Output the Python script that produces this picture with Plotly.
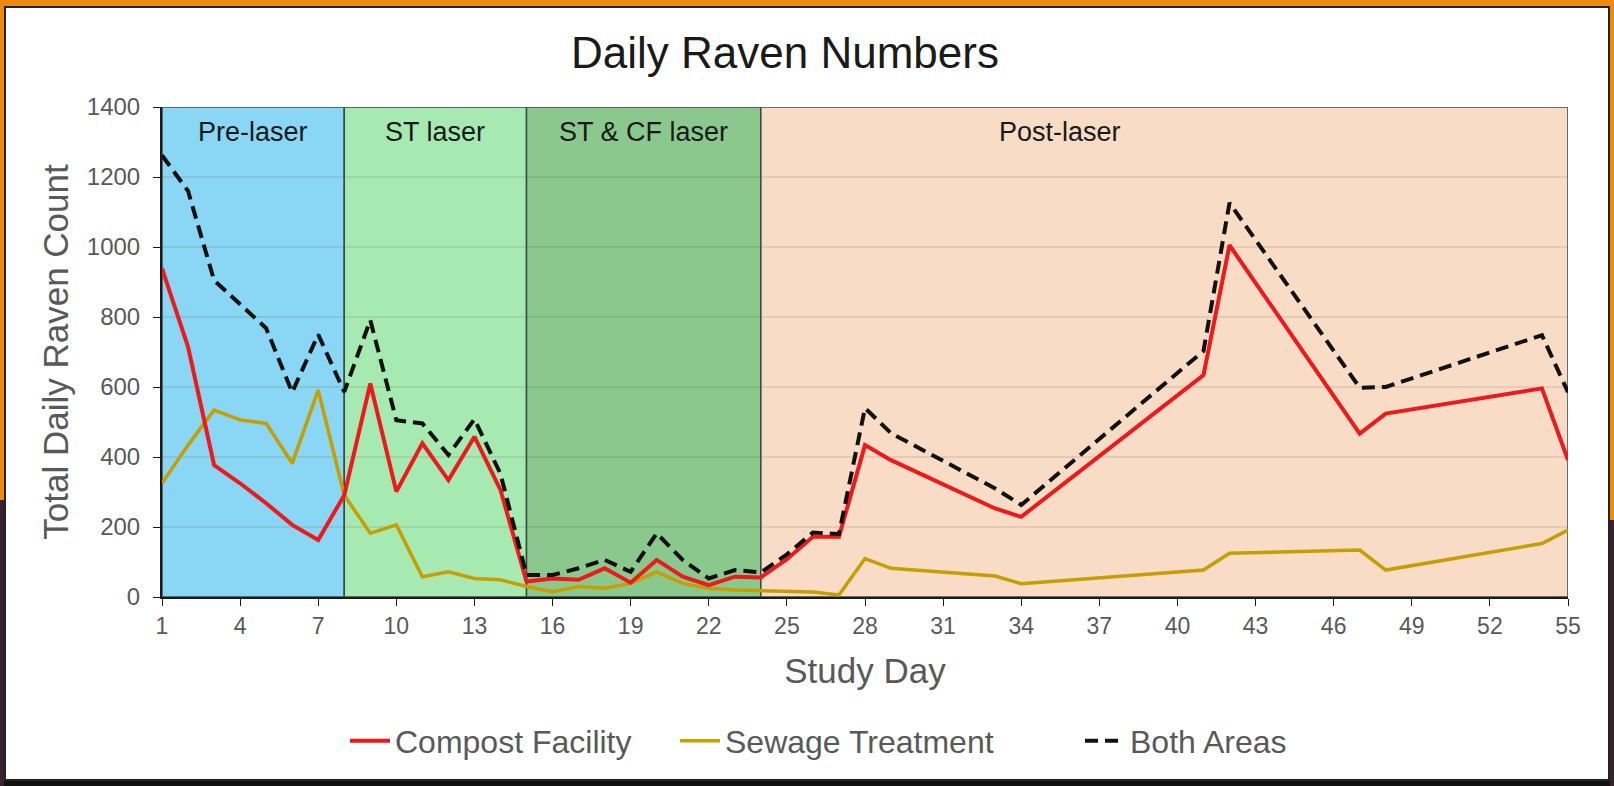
import plotly.graph_objs as go


##### Data #####

# Study days that have a count (days 30-32, 35-40, 43-46 and 49-53 are missing)
days = list(range(1, 30)) + [33, 34, 41, 42, 47, 48, 54, 55]

compost = [939, 715, 377, 325, 268, 206, 163, 291, 610, 301,
           439, 334, 458, 306, 44, 53, 49, 82, 41, 106,
           58, 34, 58, 56, 108, 172, 172, 434, 391,
           253, 229, 634, 1005, 467, 524, 596, 391]

sewage = [325, 434, 534, 506, 496, 382, 591, 291, 182, 206,
          58, 72, 53, 49, 30, 15, 30, 25, 39, 72,
          39, 25, 20, 18, 16, 14, 6, 110, 82,
          60, 38, 77, 125, 134, 77, 153, 191]

both = [1262, 1160, 905, 835, 768, 585, 750, 586, 791, 505,
        496, 406, 508, 352, 63, 63, 82, 106, 72, 182,
        106, 53, 77, 70, 122, 184, 180, 540, 468,
        310, 263, 703, 1126, 598, 600, 748, 585]

# Treatment phases
phase_names = ['Pre-laser', 'ST laser', 'ST & CF laser', 'Post-laser']
phase_start = [1, 8, 15, 24]
phase_end = [8, 15, 24, 55]
phase_label_x = [4.5, 11.5, 19.5, 35.5]
phase_colors = ['#89D6F5', '#A6EAB2', '#8BC88D', '#F8DCC6']


##### Plot parameters #####

W, H = 1614, 786
L, R, T, B = 162, 46, 107, 189
plot_w, plot_h = W - L - R, H - T - B

FONT = 'Liberation Sans, Arial, sans-serif'
GREY = '#595959'


def px_x(p):
    # pixel column -> paper coordinate
    return (p - L) / plot_w


def px_y(p):
    # pixel row -> paper coordinate
    return (H - B - p) / plot_h


def legend_at(px):
    # one legend box per series so the entries keep the original spacing
    return dict(orientation='h', x=px_x(px), xanchor='left',
                y=px_y(741), yanchor='middle',
                font=dict(size=32, color=GREY), bgcolor='rgba(0,0,0,0)',
                itemwidth=40)


fig = go.Figure()

# Series (sewage drawn first so it sits under the others)
fig.add_trace(go.Scatter(x=days, y=sewage, name='Sewage Treatment', mode='lines',
                         line=dict(color='#C69E00', width=3.5), legend='legend2'))
fig.add_trace(go.Scatter(x=days, y=compost, name='Compost Facility', mode='lines',
                         line=dict(color='#EC1A1C', width=4), legend='legend'))
fig.add_trace(go.Scatter(x=days, y=both, name='Both Areas', mode='lines',
                         line=dict(color='#111111', width=4, dash='13px,7px'),
                         legend='legend3'))


### Frame around the slide ###

shapes = [
    dict(type='rect', xref='paper', yref='paper', layer='below',
         x0=px_x(5), x1=px_x(1609), y0=px_y(780), y1=px_y(7),
         fillcolor='white', line=dict(color='#222222', width=2)),
    dict(type='rect', xref='paper', yref='paper', layer='below',
         x0=px_x(0), x1=px_x(W), y0=px_y(H), y1=px_y(781),
         fillcolor='#111111', line=dict(width=0)),
    dict(type='rect', xref='paper', yref='paper', layer='below',
         x0=px_x(0), x1=px_x(4), y0=px_y(H), y1=px_y(500),
         fillcolor='#3a2130', line=dict(width=0)),
    dict(type='rect', xref='paper', yref='paper', layer='below',
         x0=px_x(1610), x1=px_x(W), y0=px_y(H), y1=px_y(520),
         fillcolor='#3a2130', line=dict(width=0)),
]

# Phase backgrounds
for x0, x1, col in zip(phase_start, phase_end, phase_colors):
    shapes.append(dict(type='rect', xref='x', yref='y', layer='below',
                       x0=x0, x1=x1, y0=0, y1=1400, fillcolor=col,
                       line=dict(color='#3b4a48', width=1.5)))

annotations = []
for name, xl in zip(phase_names, phase_label_x):
    annotations.append(dict(x=xl, y=1330, xref='x', yref='y', text=name,
                            showarrow=False, font=dict(size=27, color='#1a1a1a')))


fig.update_layout(
    width=W, height=H,
    margin=dict(l=L, r=R, t=T, b=B),
    paper_bgcolor='#EC8A10',
    plot_bgcolor='rgba(0,0,0,0)',
    font=dict(family=FONT, color=GREY),
    title=dict(text='Daily Raven Numbers', x=785 / W, y=1 - 53 / H,
               xanchor='center', yanchor='middle',
               font=dict(size=44, color='#1a1a1a')),
    shapes=shapes,
    annotations=annotations,
    showlegend=True,
    legend=legend_at(345),
    legend2=legend_at(675),
    legend3=legend_at(1080),
)

fig.update_xaxes(range=[1, 55], tickmode='linear', tick0=1, dtick=3,
                 showgrid=False, zeroline=False,
                 showline=True, linecolor='#1a1a1a', linewidth=2,
                 ticks='outside', ticklen=7, tickcolor='#1a1a1a',
                 tickfont=dict(size=23, color=GREY),
                 title=dict(text='Study Day', font=dict(size=35, color=GREY),
                            standoff=21))

fig.update_yaxes(range=[0, 1400], tickmode='linear', tick0=0, dtick=200,
                 showgrid=True, gridcolor='rgba(110,90,80,0.14)', gridwidth=1.5,
                 zeroline=False,
                 showline=True, linecolor='#1a1a1a', linewidth=2,
                 ticks='outside', ticklen=7, tickcolor='#1a1a1a',
                 tickfont=dict(size=24, color=GREY), ticklabelstandoff=8,
                 title=dict(text='Total Daily Raven Count',
                            font=dict(size=35, color=GREY), standoff=8))

fig.write_html("out.html", config={'displayModeBar': False},
               post_script="document.body.style.margin='0';")
